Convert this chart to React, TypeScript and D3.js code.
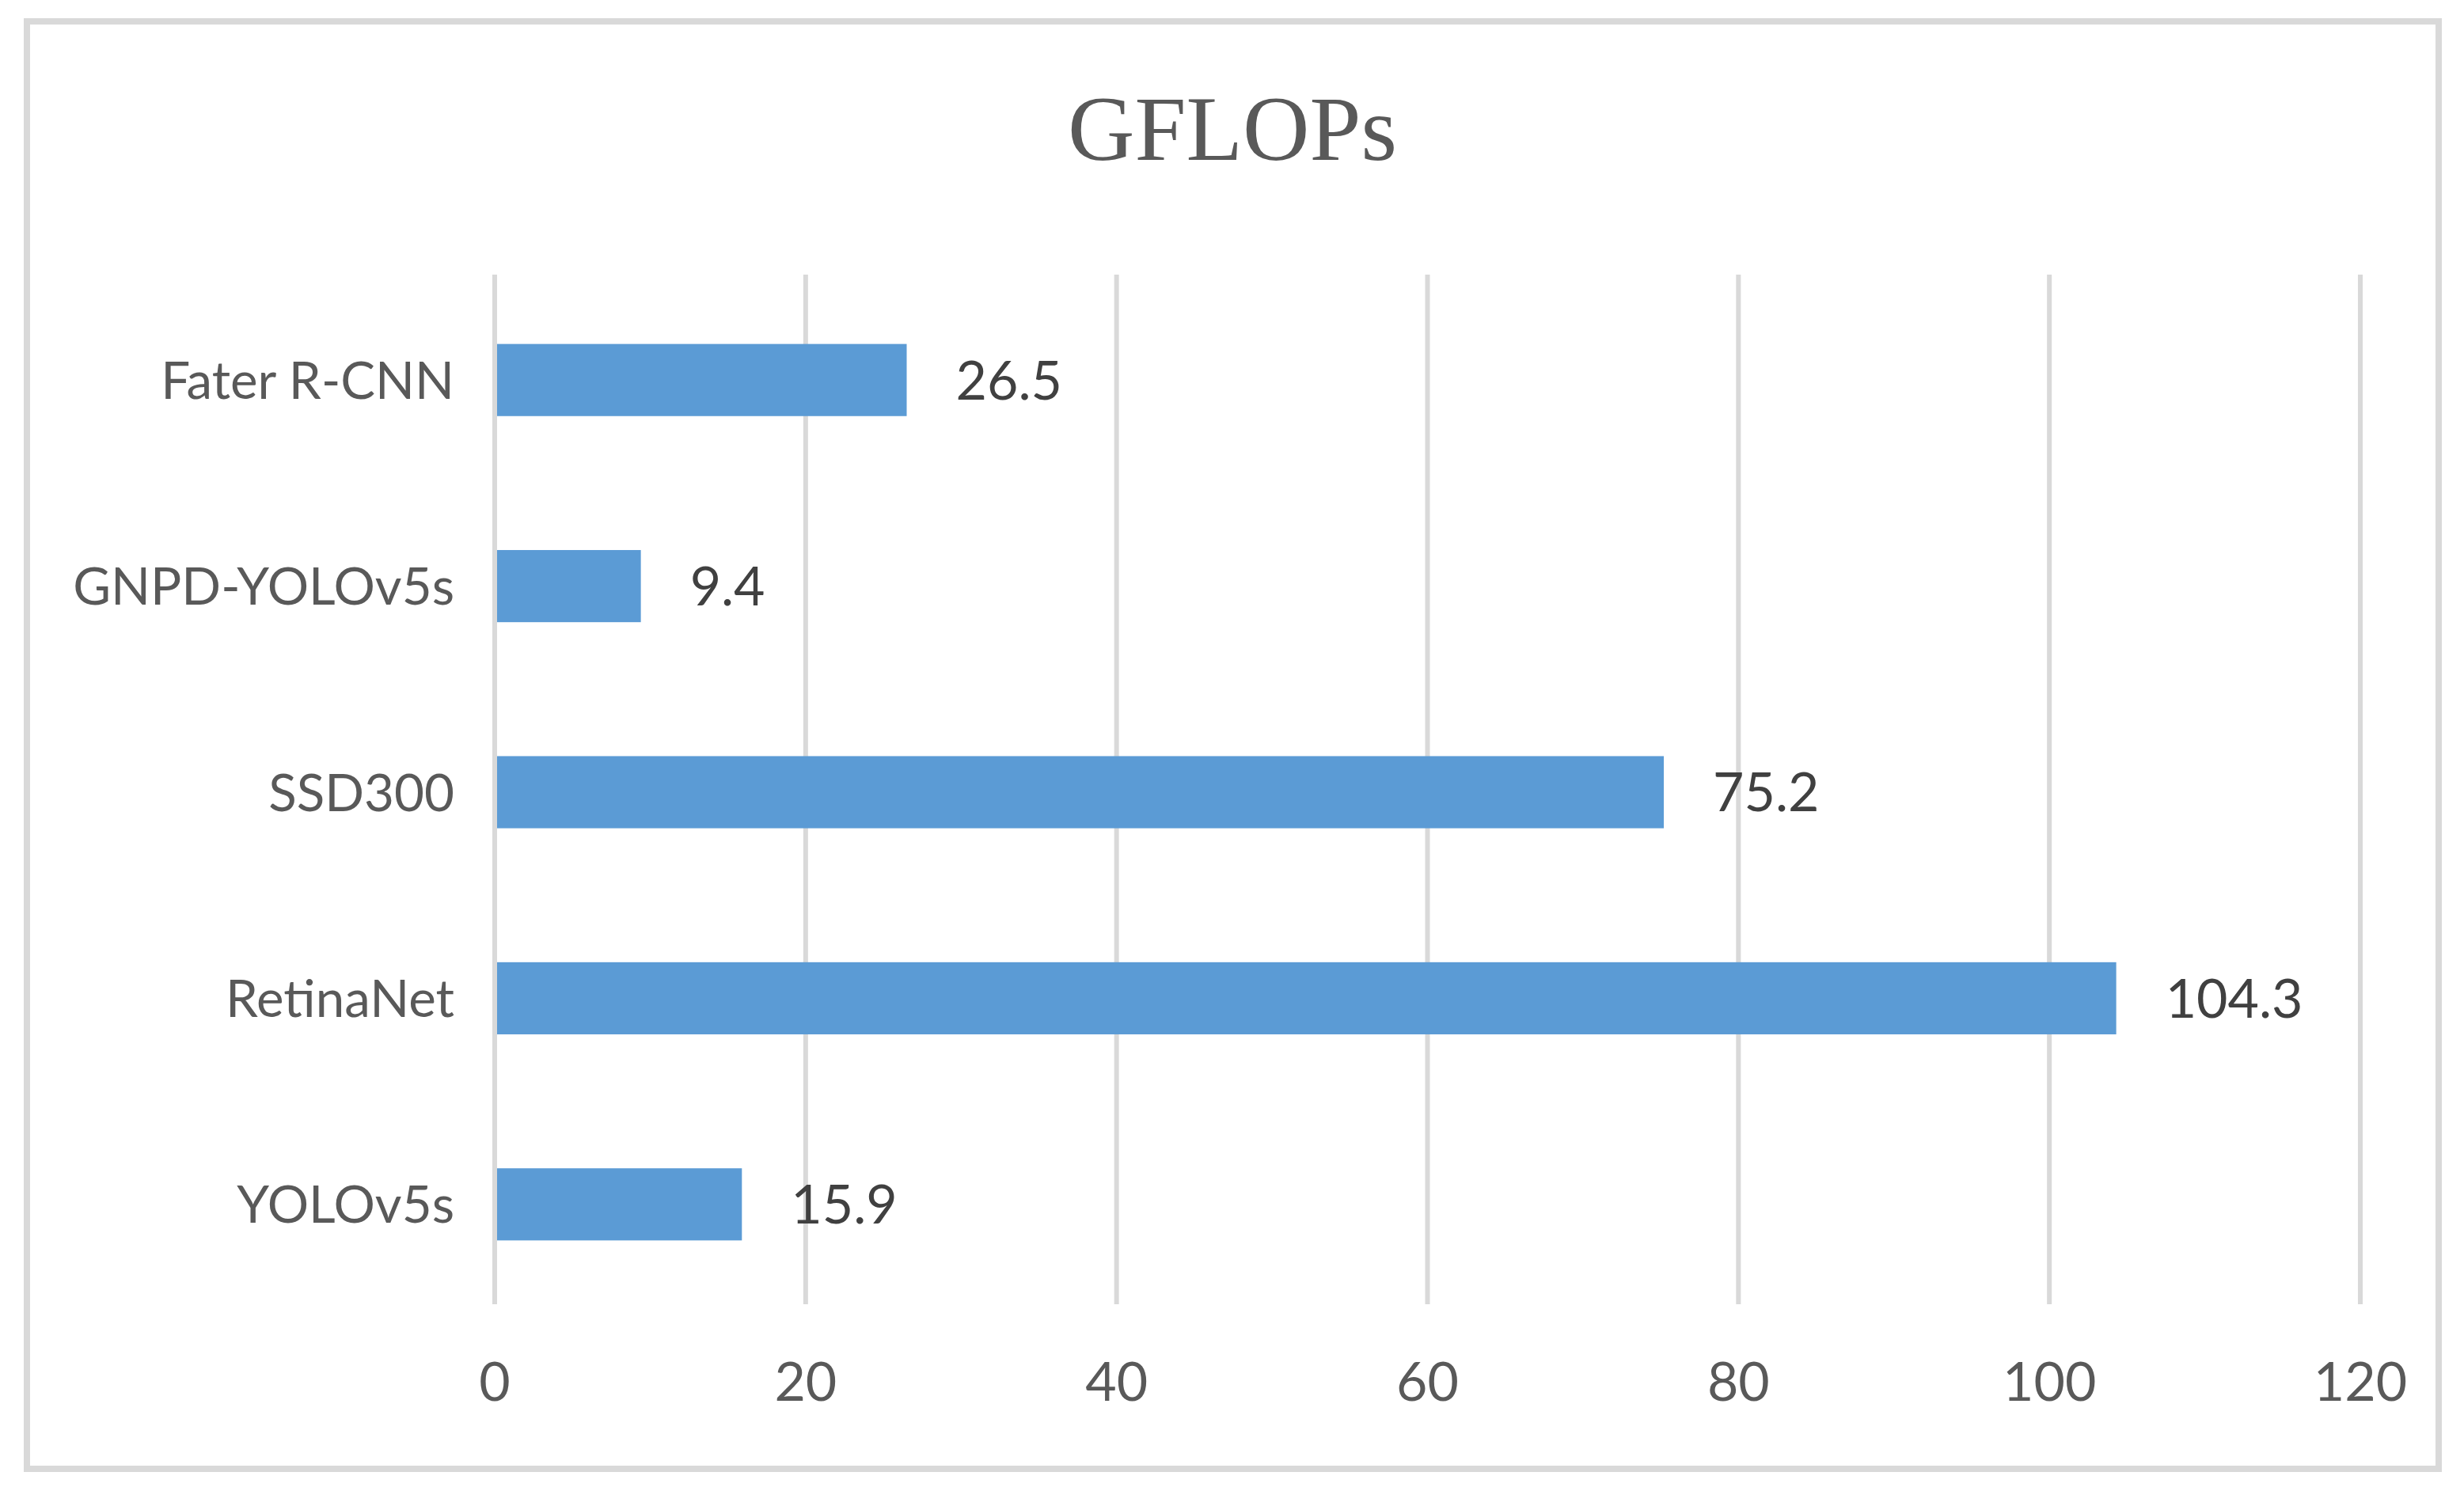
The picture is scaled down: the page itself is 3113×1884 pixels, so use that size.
import React, { useEffect } from "react";
import * as d3 from "d3";

const categories = ["Fater R-CNN", "GNPD-YOLOv5s", "SSD300", "RetinaNet", "YOLOv5s"];
const values = [26.5, 9.4, 75.2, 104.3, 15.9];
const xTicks = [0, 20, 40, 60, 80, 100, 120];
const title = "GFLOPs";

const W = 3113;
const H = 1884;

export default function App() {
  useEffect(() => {
    document.body.style.margin = "0";
  }, []);

  const x = d3.scaleLinear().domain([0, 120]).range([625, 2982]);
  const y = d3.scaleBand().domain(categories).range([350, 1652]).paddingInner(0.65).paddingOuter(0.325);
  const font = "Lato, 'Open Sans', sans-serif";

  return (
    <svg width={W} height={H} style={{ display: "block" }}>
      <rect x={0} y={0} width={W} height={H} fill="#fff" />
      <rect x={34} y={27} width={3047} height={1829} fill="#fff" stroke="#d9d9d9" strokeWidth={8} />
      <text x={1557} y={202} textAnchor="middle" fontFamily="'Liberation Serif', 'Times New Roman', serif" fontSize={117} fill="#595959">
        {title}
      </text>
      {xTicks.map((t) => (
        <line key={"g" + t} x1={x(t)} x2={x(t)} y1={347} y2={1648} stroke="#d9d9d9" strokeWidth={6} />
      ))}
      {categories.map((c, i) => (
        <rect key={"b" + c} x={x(0) + 3} y={y(c)} width={x(values[i]) - x(0) - 3} height={y.bandwidth()} fill="#5b9bd5" />
      ))}
      {categories.map((c, i) => (
        <text key={"v" + c} x={x(values[i]) + 62} y={(y(c) as number) + y.bandwidth() / 2} dy="0.36em" fontFamily={font} fontSize={68} fill="#404040">
          {values[i]}
        </text>
      ))}
      {categories.map((c) => (
        <text key={"c" + c} x={574} y={(y(c) as number) + y.bandwidth() / 2} dy="0.36em" textAnchor="end" fontFamily={font} fontSize={65.5} fill="#595959">
          {c}
        </text>
      ))}
      {xTicks.map((t) => (
        <text key={"t" + t} x={x(t)} y={1770} textAnchor="middle" fontFamily={font} fontSize={68} fill="#595959">
          {t}
        </text>
      ))}
    </svg>
  );
}
